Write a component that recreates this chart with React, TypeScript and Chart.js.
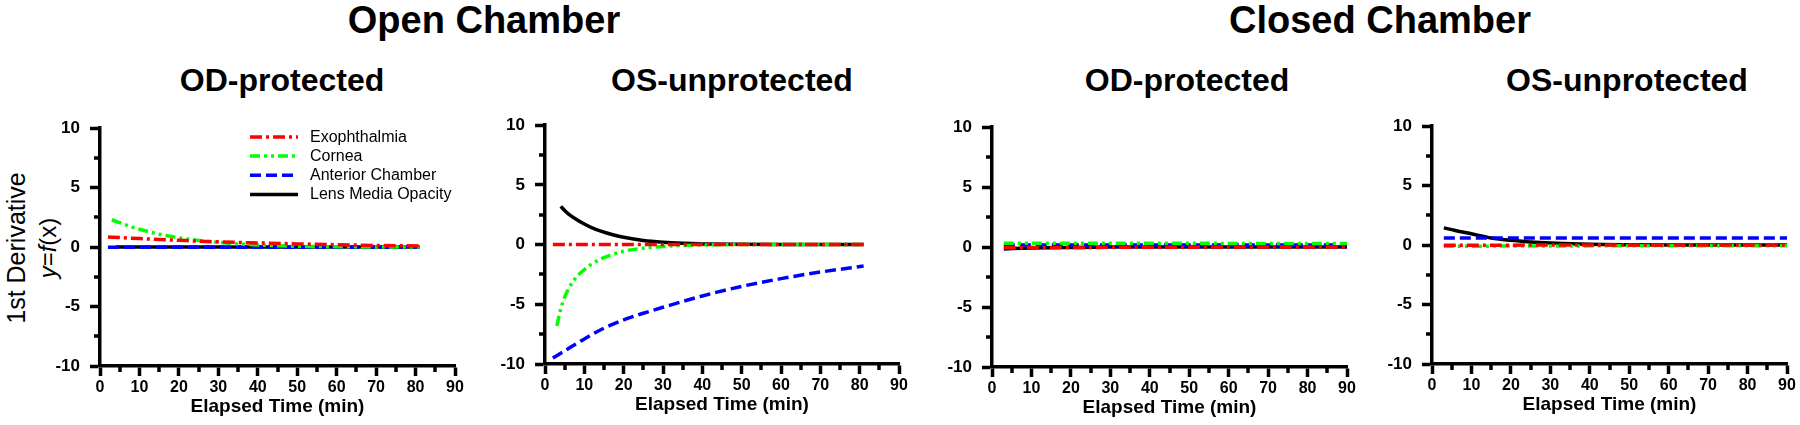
import React, { useEffect, useRef } from "react";
import { Chart, registerables } from "chart.js";

Chart.register(...registerables);

// ---------- shared labels / styles ----------
const SERIES_NAMES = ["Exophthalmia", "Cornea", "Anterior Chamber", "Lens Media Opacity"];
const SERIES_COLORS = ["#FF0000", "#00FF00", "#0000FF", "#000000"];
const SERIES_DASH = [[12, 4, 3, 4], [10, 4, 3, 4, 3, 4], [11, 5], []];

const GROUP_TITLES = ["Open Chamber", "Closed Chamber"];
const PANEL_TITLES = ["OD-protected", "OS-unprotected", "OD-protected", "OS-unprotected"];
const X_TITLE = "Elapsed Time (min)";

const X_TICKS = [0, 10, 20, 30, 40, 50, 60, 70, 80, 90];
const X_MINOR = [5, 15, 25, 35, 45, 55, 65, 75, 85];
const Y_TICKS = [-10, -5, 0, 5, 10];
const Y_MINOR = [-7.5, -2.5, 2.5, 7.5];

// ---------- Open chamber, OD-protected ----------
const OPEN_OD_EXO_X = [2, 5, 10, 15, 20, 25, 30, 40, 50, 60, 70, 81];
const OPEN_OD_EXO_Y = [0.85, 0.8, 0.72, 0.64, 0.57, 0.5, 0.44, 0.35, 0.27, 0.2, 0.14, 0.1];
const OPEN_OD_COR_X = [3, 5, 8, 10, 15, 20, 25, 30, 35, 40, 50, 60, 70, 81];
const OPEN_OD_COR_Y = [2.3, 2.05, 1.7, 1.5, 1.08, 0.78, 0.56, 0.4, 0.27, 0.18, 0.07, 0.03, 0.01, 0];
const OPEN_OD_AC_X = [2, 20, 40, 60, 81];
const OPEN_OD_AC_Y = [-0.02, -0.02, -0.01, -0.01, 0];
const OPEN_OD_LENS_X = [4, 20, 40, 60, 81];
const OPEN_OD_LENS_Y = [0, 0, 0, 0, 0];

// ---------- Open chamber, OS-unprotected ----------
const OPEN_OS_EXO_X = [2, 20, 40, 60, 81];
const OPEN_OS_EXO_Y = [0, 0, 0, 0, 0];
const OPEN_OS_COR_X = [3, 4, 5, 6, 7, 8, 10, 12, 15, 20, 25, 30, 35, 40, 50, 81];
const OPEN_OS_COR_Y = [-6.8, -5.4, -4.4, -3.7, -3.15, -2.7, -2.1, -1.6, -1.1, -0.56, -0.3, -0.15, -0.07, -0.03, 0, 0];
const OPEN_OS_AC_X = [2, 5, 10, 15, 20, 25, 30, 40, 50, 60, 70, 81];
const OPEN_OS_AC_Y = [-9.5, -8.9, -7.9, -7.0, -6.3, -5.75, -5.25, -4.3, -3.5, -2.85, -2.3, -1.8];
const OPEN_OS_LENS_X = [4, 5, 6, 8, 10, 12, 14, 17, 20, 25, 30, 35, 40, 50, 60, 81];
const OPEN_OS_LENS_Y = [3.2, 2.85, 2.55, 2.1, 1.72, 1.4, 1.15, 0.85, 0.62, 0.35, 0.2, 0.11, 0.06, 0.02, 0, 0];

// ---------- Closed chamber, OD-protected ----------
const CLOSED_OD_EXO_X = [3, 30, 60, 90];
const CLOSED_OD_EXO_Y = [-0.05, -0.02, 0, 0];
const CLOSED_OD_COR_X = [3, 30, 60, 90];
const CLOSED_OD_COR_Y = [0.33, 0.32, 0.31, 0.3];
const CLOSED_OD_AC_X = [3, 30, 60, 90];
const CLOSED_OD_AC_Y = [0.18, 0.18, 0.18, 0.18];
const CLOSED_OD_LENS_X = [3, 10, 20, 30, 60, 90];
const CLOSED_OD_LENS_Y = [-0.15, -0.08, -0.03, 0, 0, 0];

// ---------- Closed chamber, OS-unprotected ----------
const CLOSED_OS_EXO_X = [3, 30, 60, 90];
const CLOSED_OS_EXO_Y = [-0.02, 0, 0, 0];
const CLOSED_OS_COR_X = [3, 30, 60, 90];
const CLOSED_OS_COR_Y = [-0.1, -0.07, -0.06, -0.05];
const CLOSED_OS_AC_X = [3, 30, 60, 90];
const CLOSED_OS_AC_Y = [0.6, 0.6, 0.6, 0.6];
const CLOSED_OS_LENS_X = [3, 5, 7, 10, 15, 20, 25, 30, 40, 50, 60, 90];
const CLOSED_OS_LENS_Y = [1.45, 1.3, 1.15, 0.95, 0.6, 0.4, 0.27, 0.18, 0.07, 0.03, 0.01, 0];

const PANEL_SERIES = [
  [
    [OPEN_OD_EXO_X, OPEN_OD_EXO_Y],
    [OPEN_OD_COR_X, OPEN_OD_COR_Y],
    [OPEN_OD_AC_X, OPEN_OD_AC_Y],
    [OPEN_OD_LENS_X, OPEN_OD_LENS_Y],
  ],
  [
    [OPEN_OS_EXO_X, OPEN_OS_EXO_Y],
    [OPEN_OS_COR_X, OPEN_OS_COR_Y],
    [OPEN_OS_AC_X, OPEN_OS_AC_Y],
    [OPEN_OS_LENS_X, OPEN_OS_LENS_Y],
  ],
  [
    [CLOSED_OD_EXO_X, CLOSED_OD_EXO_Y],
    [CLOSED_OD_COR_X, CLOSED_OD_COR_Y],
    [CLOSED_OD_AC_X, CLOSED_OD_AC_Y],
    [CLOSED_OD_LENS_X, CLOSED_OD_LENS_Y],
  ],
  [
    [CLOSED_OS_EXO_X, CLOSED_OS_EXO_Y],
    [CLOSED_OS_COR_X, CLOSED_OS_COR_Y],
    [CLOSED_OS_AC_X, CLOSED_OS_AC_Y],
    [CLOSED_OS_LENS_X, CLOSED_OS_LENS_Y],
  ],
];

// ---------- layout (pixels) ----------
const FONT = '"Liberation Sans", Arial, Helvetica, sans-serif';
const Y_W = 100;
const PAD_TOP = 20;
const PAD_RIGHT = 13;
const X_H = 55;
const PLOT_BOXES = [
  { left: 100, top: 128, right: 455, bottom: 366 },
  { left: 545, top: 125, right: 899, bottom: 364 },
  { left: 992, top: 127, right: 1347, bottom: 367 },
  { left: 1432, top: 126, right: 1787, bottom: 364 },
];
const PANEL_TITLE_CX = [282, 732, 1187, 1627];
const GROUP_TITLE_CX = [484, 1380];

const minorTicksPlugin = {
  id: "minorTicks",
  afterDraw(chart: any) {
    const { ctx, chartArea, scales } = chart;
    ctx.save();
    ctx.strokeStyle = "#000";
    ctx.lineWidth = 3.5;
    ctx.lineCap = "butt";
    const xs = scales.x;
    X_MINOR.forEach((v) => {
      const px = Math.round(xs.getPixelForValue(v));
      ctx.beginPath();
      ctx.moveTo(px, chartArea.bottom);
      ctx.lineTo(px, chartArea.bottom + 6);
      ctx.stroke();
    });
    const ys = scales.y;
    Y_MINOR.forEach((v) => {
      const py = Math.round(ys.getPixelForValue(v));
      ctx.beginPath();
      ctx.moveTo(chartArea.left - 6, py);
      ctx.lineTo(chartArea.left, py);
      ctx.stroke();
    });
    ctx.restore();
  },
};

const insetLegendPlugin = {
  id: "insetLegend",
  afterDraw(chart: any, _args: any, opts: any) {
    if (!opts || !opts.show) return;
    const { ctx, chartArea } = chart;
    ctx.save();
    ctx.font = `16px ${FONT}`;
    ctx.textBaseline = "middle";
    ctx.textAlign = "left";
    SERIES_NAMES.forEach((name, i) => {
      const y = chartArea.top + 8.7 + i * 19.2;
      const x0 = chartArea.left + 150;
      ctx.strokeStyle = SERIES_COLORS[i];
      ctx.lineWidth = 3.5;
      ctx.setLineDash(SERIES_DASH[i]);
      ctx.beginPath();
      ctx.moveTo(x0, y);
      ctx.lineTo(x0 + 48, y);
      ctx.stroke();
      ctx.setLineDash([]);
      ctx.fillStyle = "#000";
      ctx.fillText(name, x0 + 60, y + 0.5);
    });
    ctx.restore();
  },
};

function Panel({ index }: { index: number }) {
  const ref = useRef<HTMLCanvasElement | null>(null);
  const box = PLOT_BOXES[index];
  const width = Y_W + (box.right - box.left) + PAD_RIGHT;
  const height = PAD_TOP + (box.bottom - box.top) + X_H;

  useEffect(() => {
    if (!ref.current) return;
    const datasets = PANEL_SERIES[index].map(([xs, ys], i) => ({
      label: SERIES_NAMES[i],
      data: xs.map((x, k) => ({ x, y: ys[k] })),
      borderColor: SERIES_COLORS[i],
      backgroundColor: SERIES_COLORS[i],
      borderDash: SERIES_DASH[i],
      borderWidth: 3.5,
      pointRadius: 0,
      fill: false,
      cubicInterpolationMode: "monotone" as const,
    }));
    const chart = new Chart(ref.current, {
      type: "line",
      data: { datasets },
      plugins: [minorTicksPlugin, insetLegendPlugin],
      options: {
        animation: false,
        responsive: false,
        maintainAspectRatio: false,
        layout: { padding: { top: PAD_TOP, right: PAD_RIGHT, left: 0, bottom: 0 } },
        plugins: {
          legend: { display: false },
          tooltip: { enabled: false },
          title: { display: false },
          insetLegend: { show: index === 0 },
        } as any,
        scales: {
          x: {
            type: "linear",
            min: 0,
            max: 90,
            afterBuildTicks: (s: any) => {
              s.ticks = X_TICKS.map((v) => ({ value: v }));
            },
            afterFit: (s: any) => {
              s.height = X_H;
            },
            grid: {
              drawOnChartArea: false,
              drawTicks: true,
              tickLength: 10,
              tickWidth: 3.5,
              tickColor: "#000",
            },
            border: { display: true, color: "#000", width: 3.5 },
            ticks: {
              color: "#000",
              font: { family: FONT, size: 16, weight: "bold" },
              padding: 2,
              maxRotation: 0,
              autoSkip: false,
              callback: (v: any) => String(v),
            },
            title: {
              display: true,
              text: X_TITLE,
              color: "#000",
              font: { family: FONT, size: 19, weight: "bold" },
              padding: { top: 0, bottom: 3 },
            },
          },
          y: {
            type: "linear",
            min: -10,
            max: 10,
            afterBuildTicks: (s: any) => {
              s.ticks = Y_TICKS.map((v) => ({ value: v }));
            },
            afterFit: (s: any) => {
              s.width = Y_W;
            },
            grid: {
              drawOnChartArea: false,
              drawTicks: true,
              tickLength: 10,
              tickWidth: 3.5,
              tickColor: "#000",
            },
            border: { display: true, color: "#000", width: 3.5 },
            ticks: {
              color: "#000",
              font: { family: FONT, size: 17, weight: "bold" },
              padding: 10,
              autoSkip: false,
              callback: (v: any) => String(v),
            },
          },
        },
      } as any,
    });
    return () => chart.destroy();
  }, [index]);

  return (
    <canvas
      ref={ref}
      width={width}
      height={height}
      style={{
        position: "absolute",
        left: box.left - Y_W,
        top: box.top - PAD_TOP,
        width,
        height,
      }}
    />
  );
}

export default function App() {
  return (
    <div
      style={{
        position: "fixed",
        left: 0,
        top: 0,
        width: 1800,
        height: 425,
        overflow: "hidden",
        background: "#fff",
        fontFamily: FONT,
        color: "#000",
      }}
    >
      {GROUP_TITLES.map((t, i) => (
        <div
          key={"g" + i}
          style={{
            position: "absolute",
            left: GROUP_TITLE_CX[i] - 300,
            width: 600,
            top: 1,
            textAlign: "center",
            fontSize: 38,
            lineHeight: "38px",
            fontWeight: "bold",
            whiteSpace: "nowrap",
          }}
        >
          {t}
        </div>
      ))}
      {PANEL_TITLES.map((t, i) => (
        <div
          key={"p" + i}
          style={{
            position: "absolute",
            left: PANEL_TITLE_CX[i] - 200,
            width: 400,
            top: 64,
            textAlign: "center",
            fontSize: 32,
            lineHeight: "32px",
            fontWeight: "bold",
            whiteSpace: "nowrap",
          }}
        >
          {t}
        </div>
      ))}
      <div
        style={{
          position: "absolute",
          left: 32,
          top: 248,
          width: 220,
          transform: "translate(-50%, -50%) rotate(-90deg)",
          textAlign: "center",
          fontSize: 24,
          lineHeight: "32px",
          whiteSpace: "nowrap",
        }}
      >
        <div style={{ fontSize: 25 }}>1st Derivative</div>
        <div>
          <i>y</i>=<i>f</i>(x)
        </div>
      </div>
      {PLOT_BOXES.map((_, i) => (
        <Panel key={i} index={i} />
      ))}
    </div>
  );
}
